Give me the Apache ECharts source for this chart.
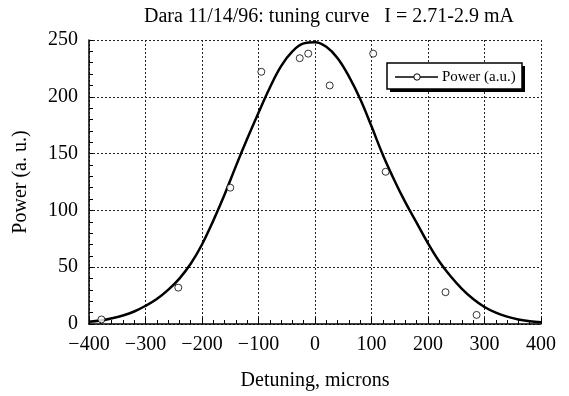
<!DOCTYPE html>
<html>
<head>
<meta charset="utf-8">
<script src="https://cdn.jsdelivr.net/npm/echarts@6/dist/echarts.min.js"></script>
<style>html,body{margin:0;padding:0;background:#fff}#c{width:569px;height:396px}</style>
</head>
<body>
<div id="c"></div>
<script>
// Measured points (detuning in microns, power in a.u.)
var pointX = [-378, -242, -150, -95, -27, -12, 26, 103, 125, 231, 286];
var pointY = [4, 32, 120, 222, 234, 238, 210, 238, 134, 28, 8];
// Fitted curve
var curveX = [-400,-380,-360,-340,-320,-300,-280,-260,-240,-220,-200,-180,-160,-140,-120,-100,-80,-60,-40,-20,0,20,40,60,80,100,120,140,160,180,200,220,240,260,280,300,320,340,360,380,400];
var curveY = [2,3,5,7.5,11,16,22,30,40,53,70,91,114,139,163,186,208,227,240,247,248,244,234,218,198,174,149,127,107,89,71,55,42,31,22,15,10,6.5,4,2.5,1.5];
var xTicks = [-400, 400, 100];
var xMinorStep = 20;
var yTicks = [0, 250, 50];
var yMinorStep = 10;
var titleText = 'Dara 11/14/96: tuning curve   I = 2.71-2.9 mA';
var xName = 'Detuning, microns';
var yName = 'Power (a. u.)';
var legendName = 'Power (a.u.)';

var FONT = '"Liberation Serif", "Times New Roman", serif';
var chart = echarts.init(document.getElementById('c'), null, {renderer: 'canvas'});
var pts = pointX.map(function (x, i) { return [x, pointY[i]]; });
var crv = curveX.map(function (x, i) { return [x, curveY[i]]; });
var gridLine = {show: true, lineStyle: {color: '#222', width: 1, type: [2, 2]}};
var tickOnly = function (min, max, step, pos) {
  return {type: 'value', position: pos, min: min, max: max, interval: step,
    axisLine: {show: false, onZero: false}, axisLabel: {show: false}, splitLine: {show: false},
    axisTick: {show: true, inside: true, length: 4, lineStyle: {color: '#000', width: 1}}};
};
chart.setOption({
  animation: false,
  backgroundColor: '#fff',
  title: {text: titleText, left: 324, top: 2, textAlign: 'center',
    textStyle: {fontFamily: FONT, fontSize: 20, fontWeight: 'normal', color: '#000'}},
  grid: {left: 89, right: 28, top: 40, bottom: 68, containLabel: false},
  xAxis: [{
    type: 'value', position: 'bottom', min: xTicks[0], max: xTicks[1], interval: xTicks[2],
    name: xName, nameLocation: 'middle', nameGap: 47,
    nameTextStyle: {fontFamily: FONT, fontSize: 20, color: '#000'},
    axisLine: {show: true, onZero: false, lineStyle: {color: '#000', width: 1.5}},
    axisTick: {show: true, inside: true, length: 6, lineStyle: {color: '#000', width: 1}},
    axisLabel: {margin: 11, fontFamily: FONT, fontSize: 20, color: '#000',
      formatter: function (v) { return v < 0 ? '\u2212' + Math.abs(v) : String(v); }},
    splitLine: gridLine
  }, tickOnly(xTicks[0], xTicks[1], xMinorStep, 'bottom')],
  yAxis: [{
    type: 'value', position: 'left', min: yTicks[0], max: yTicks[1], interval: yTicks[2],
    name: yName, nameLocation: 'middle', nameGap: 58,
    nameTextStyle: {fontFamily: FONT, fontSize: 20, color: '#000'},
    axisLine: {show: true, onZero: false, lineStyle: {color: '#000', width: 1.5}},
    axisTick: {show: true, inside: true, length: 4, lineStyle: {color: '#000', width: 1}},
    axisLabel: {margin: 11, fontFamily: FONT, fontSize: 20, color: '#000'},
    splitLine: gridLine
  }, tickOnly(yTicks[0], yTicks[1], yMinorStep, 'left')],
  series: [
    {type: 'line', name: 'curve', data: crv, smooth: 0.4, showSymbol: false,
      lineStyle: {color: '#000', width: 2.5}, z: 3},
    {type: 'scatter', name: legendName, data: pts, symbol: 'circle', symbolSize: 7,
      itemStyle: {color: '#fff', borderColor: '#000', borderWidth: 1}, z: 4}
  ],
  graphic: [
    {type: 'rect', shape: {x: 390, y: 66, width: 135, height: 26}, style: {fill: '#000'}, z: 10},
    {type: 'rect', shape: {x: 387, y: 63, width: 135, height: 26}, style: {fill: '#fff', stroke: '#000', lineWidth: 1.5}, z: 11},
    {type: 'line', shape: {x1: 395, y1: 77, x2: 438, y2: 77}, style: {stroke: '#000', lineWidth: 1.5}, z: 12},
    {type: 'circle', shape: {cx: 417, cy: 77, r: 3.2}, style: {fill: '#fff', stroke: '#000', lineWidth: 1}, z: 13},
    {type: 'text', x: 442, y: 77, style: {text: legendName, fontFamily: FONT, fontSize: 15, fill: '#000', verticalAlign: 'middle'}, z: 13}
  ]
});
</script>
</body>
</html>
